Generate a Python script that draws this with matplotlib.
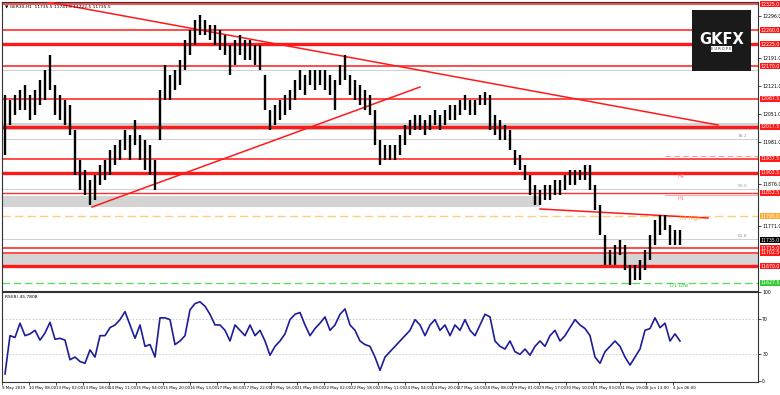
import matplotlib
matplotlib.use("Agg")
import matplotlib.pyplot as plt
from matplotlib.patches import Rectangle

# ---------------- data ----------------
highs = [12097,12085,12097,12110,12122,12097,12110,12135,12160,12197,
         12122,12097,12085,12072,12010,11935,11910,11885,11897,11922,
         11935,11960,11972,11985,12010,11997,12035,11997,11985,11972,
         11935,12110,12172,12147,12160,12185,12235,12260,12285,12297,
         12285,12272,12272,12260,12247,12222,12235,12247,12235,12235,
         12222,12222,12147,12060,12072,12085,12097,12110,12135,12160,
         12147,12160,12160,12160,12160,12147,12135,12172,12197,12147,
         12135,12122,12110,12097,12060,11985,11972,11972,11972,11997,
         12022,12035,12047,12047,12035,12047,12060,12047,12060,12072,
         12072,12085,12097,12085,12085,12097,12105,12097,12047,12035,
         12022,12010,11960,11947,11922,11897,11872,11860,11872,11872,
         11885,11885,11897,11910,11910,11910,11922,11922,11872,11822,
         11747,11710,11722,11735,11722,11672,11672,11685,11710,11747,
         11785,11797,11797,11772,11760,11760]
lows = [11947,12022,12047,12060,12060,12035,12047,12072,12085,12110,
        12047,12035,12022,11997,11897,11860,11847,11822,11835,11872,
        11885,11897,11922,11935,11960,11935,11972,11935,11910,11897,
        11860,11985,12085,12085,12110,12122,12160,12197,12222,12247,
        12247,12235,12222,12210,12197,12147,12172,12197,12185,12185,
        12172,12160,12060,12010,12022,12035,12047,12060,12085,12110,
        12097,12122,12110,12122,12110,12097,12060,12122,12135,12097,
        12085,12072,12060,12047,11972,11922,11935,11935,11935,11947,
        11972,11997,12010,12010,11997,12010,12022,12010,12022,12035,
        12035,12047,12060,12047,12047,12072,12072,12010,11997,11985,
        11985,11960,11922,11910,11885,11847,11822,11822,11835,11835,
        11847,11847,11860,11872,11872,11885,11885,11860,11810,11747,
        11672,11672,11672,11697,11660,11622,11635,11635,11660,11685,
        11722,11747,11760,11722,11722,11722]
rsi = [8,51,49,65,51,53,57,46,54,66,47,48,46,24,27,22,20,35,27,51,
       51,60,63,69,78,63,48,63,39,41,27,71,71,69,41,45,51,80,87,89,
       84,75,63,63,57,45,63,57,51,63,51,57,45,29,39,45,53,69,75,77,
       63,51,59,65,72,57,63,75,81,63,57,45,41,39,27,12,27,33,39,45,
       51,57,69,63,51,63,69,57,63,51,63,57,69,57,51,63,75,72,45,39,
       36,45,33,30,36,29,39,45,39,51,57,45,51,60,69,63,59,51,27,20,
       33,39,45,39,27,18,27,36,57,59,71,60,65,45,53,45]

x_labels = ["9 May 2019", "10 May 08:00", "13 May 02:00", "13 May 18:00",
            "14 May 11:00", "15 May 04:00", "15 May 20:00", "16 May 13:00",
            "17 May 06:00", "17 May 22:00", "20 May 16:00", "21 May 09:00",
            "22 May 02:00", "22 May 18:00", "23 May 11:00", "24 May 04:00",
            "24 May 20:00", "27 May 14:00", "28 May 08:00", "29 May 01:00",
            "29 May 17:00", "30 May 10:00", "31 May 03:00", "31 May 19:00",
            "3 Jun 13:00", "4 Jun 06:00"]

# horizontal levels
red_thin = [12325, 12260, 12170, 12087.5, 11937.5, 11715, 11702.5]
red_thick = [12225, 12017.5, 11902.5, 11670]
pink_level = 11852.5
pink_dashed = 11945
orange_level = 11795
green_level = 11627.5
current_price = 11735
fib_levels = [12160, 11987.5, 11862.5, 11737.5]
fib_names = ["23.6", "38.2", "50.0", "61.8"]
gray_bands = [(12010, 12027), (11665, 11700)]
left_band = (11817.5, 11845)
trend_lines = [((9.6, 12330), (143.6, 12022.5)),
               ((18.4, 11817.5), (84, 12117.5)),
               ((108, 11812.5), (141.6, 11790))]

price_ticks = [12296, 12261, 12226, 12191, 12156, 12121, 12086, 12051, 12016,
               11981, 11946, 11911, 11876, 11841, 11806, 11771, 11736, 11701,
               11666, 11631]

# ---------------- figure ----------------
W, H = 780, 395
fig = plt.figure(figsize=(7.8, 3.95), dpi=100)
fig.patch.set_facecolor("white")
plt.rcParams["font.family"] = ["DejaVu Sans"]

def fx(px):
    return px / W

def fy(py):
    return 1 - py / H

ax = fig.add_axes([fx(2), fy(291), fx(758) - fx(2), fy(2) - fy(291)])
axr = fig.add_axes([fx(2), fy(382), fx(758) - fx(2), fy(292) - fy(382)])

xmin, xmax = 0.4, 151.6
n = len(highs)
xs = list(range(1, n + 1))

# price panel
ax.set_xlim(xmin, xmax)
ax.set_ylim(11607.5, 12330)
for lo, hi in gray_bands:
    ax.axhspan(lo, hi, color="#d4d4d4", zorder=0, lw=0)
ax.fill_between([xmin, 108], left_band[0], left_band[1], color="#d4d4d4", zorder=0, lw=0)

for lv, nm in zip(fib_levels, fib_names):
    ax.axhline(lv, color="#cfcfcf", lw=0.7, zorder=1)
    ax.text(149.5, lv + 3, nm, fontsize=3.2, color="#999999", ha="right", va="bottom")

for lv in red_thin:
    ax.axhline(lv, color="#ff1a1a", lw=1.1, zorder=2)
for lv in red_thick:
    ax.axhline(lv, color="#ff1a1a", lw=2.4, zorder=2)
ax.axhline(pink_level, color="#ff3333", lw=1.0, zorder=2)
ax.plot([133, xmax], [pink_level - 5] * 2, color="#ffaaaa", lw=0.8, zorder=2)
ax.plot([133, xmax], [pink_dashed] * 2, color="#ff9999", lw=0.8, ls=(0, (5, 3)), zorder=2)
ax.axhline(orange_level, color="#ffcc80", lw=1.0, ls=(0, (6, 3)), zorder=2)
ax.axhline(green_level, color="#55dd55", lw=0.9, ls=(0, (6, 3)), zorder=2)

for (x0, y0), (x1, y1) in trend_lines:
    ax.plot([x0, x1], [y0, y1], color="#ff1a1a", lw=1.1, zorder=3)

ax.vlines(xs, lows, highs, color="black", lw=1.7, zorder=4)

tag_levels = red_thin + red_thick + [pink_level, orange_level, green_level, current_price]
shown_ticks = [t for t in price_ticks if min(abs(t - v) for v in tag_levels) > 14]
ax.set_yticks(shown_ticks)
ax.set_yticklabels([f"{v:.1f}" for v in shown_ticks], fontsize=3.3)
ax.yaxis.tick_right()
ax.tick_params(axis="y", length=2, width=0.5, pad=1)
ax.set_xticks([])
for s in ax.spines.values():
    s.set_linewidth(0.8)
    s.set_color("#333333")

# price labels at right
def tag(val, fc, tc="white"):
    ax.text(1.003, val, f"{val:.1f}", transform=ax.get_yaxis_transform(),
            fontsize=3.3, color=tc, va="center", ha="left",
            bbox=dict(boxstyle="square,pad=0.12", fc=fc, ec="none"), zorder=10, clip_on=False)

for lv in red_thin + red_thick + [pink_level]:
    tag(lv, "#ff1a1a")
tag(orange_level, "#ffaa33")
tag(green_level, "#33cc33")
tag(current_price, "black")

ax.text(0.004, 0.992, "\u25bc GER30,H1  11735.5 11741.0 11722.5 11735.5",
        transform=ax.transAxes, fontsize=3.2, va="top", ha="left", color="black")
ax.text(136, orange_level - 6, "H1 High", fontsize=3.6, color="#ffaa33", ha="left", va="center")
ax.text(134, green_level - 7, "D1 Low", fontsize=3.6, color="#33cc33", ha="left", va="center")
ax.text(135.5, 11840, "H1", fontsize=3.6, color="#ff7777", ha="left", va="center")
ax.text(135.5, 11893, "H4", fontsize=3.6, color="#ff7777", ha="left", va="center")

# logo
fig.patches.append(Rectangle((fx(692), fy(71)), fx(751) - fx(692), fy(10) - fy(71),
                             transform=fig.transFigure, fc="#1a1a1a", ec="none", zorder=20))
fig.text(fx(721.5), fy(40), "GKFX", fontsize=10.5, fontweight="bold", color="white",
         ha="center", va="center", zorder=21)
fig.text(fx(721.5), fy(49), "E U R O P E", fontsize=2.6, color="#1a1a1a", ha="center",
         va="center", zorder=22,
         bbox=dict(boxstyle="square,pad=0.2", fc="white", ec="none"))

# RSI panel
axr.set_xlim(xmin, xmax)
axr.set_ylim(-1, 100)
axr.axhline(70, color="#c8c8c8", lw=0.6, ls=(0, (2, 2)))
axr.axhline(30, color="#c8c8c8", lw=0.6, ls=(0, (2, 2)))
axr.plot(xs, rsi, color="#1c1c9c", lw=1.2, zorder=3)
axr.set_yticks([100, 70, 30, 0])
axr.set_yticklabels(["100", "70", "30", "0"], fontsize=3.3)
axr.yaxis.tick_right()
axr.tick_params(axis="y", length=2, width=0.5, pad=1)
for s in axr.spines.values():
    s.set_linewidth(0.8)
    s.set_color("#333333")
axr.text(0.004, 0.97, "RSI(8) 45.7808", transform=axr.transAxes, fontsize=3.2,
         va="top", ha="left")

# x labels (bottom)
label_px = [2 + 26.85 * k for k in range(len(x_labels))]
tick_x = [p / 5 for p in label_px]
axr.set_xticks(tick_x)
axr.set_xticklabels(x_labels, fontsize=2.9, ha="left")
axr.tick_params(axis="x", length=2, width=0.5, pad=1)

fig.savefig("out.png", dpi=100)
